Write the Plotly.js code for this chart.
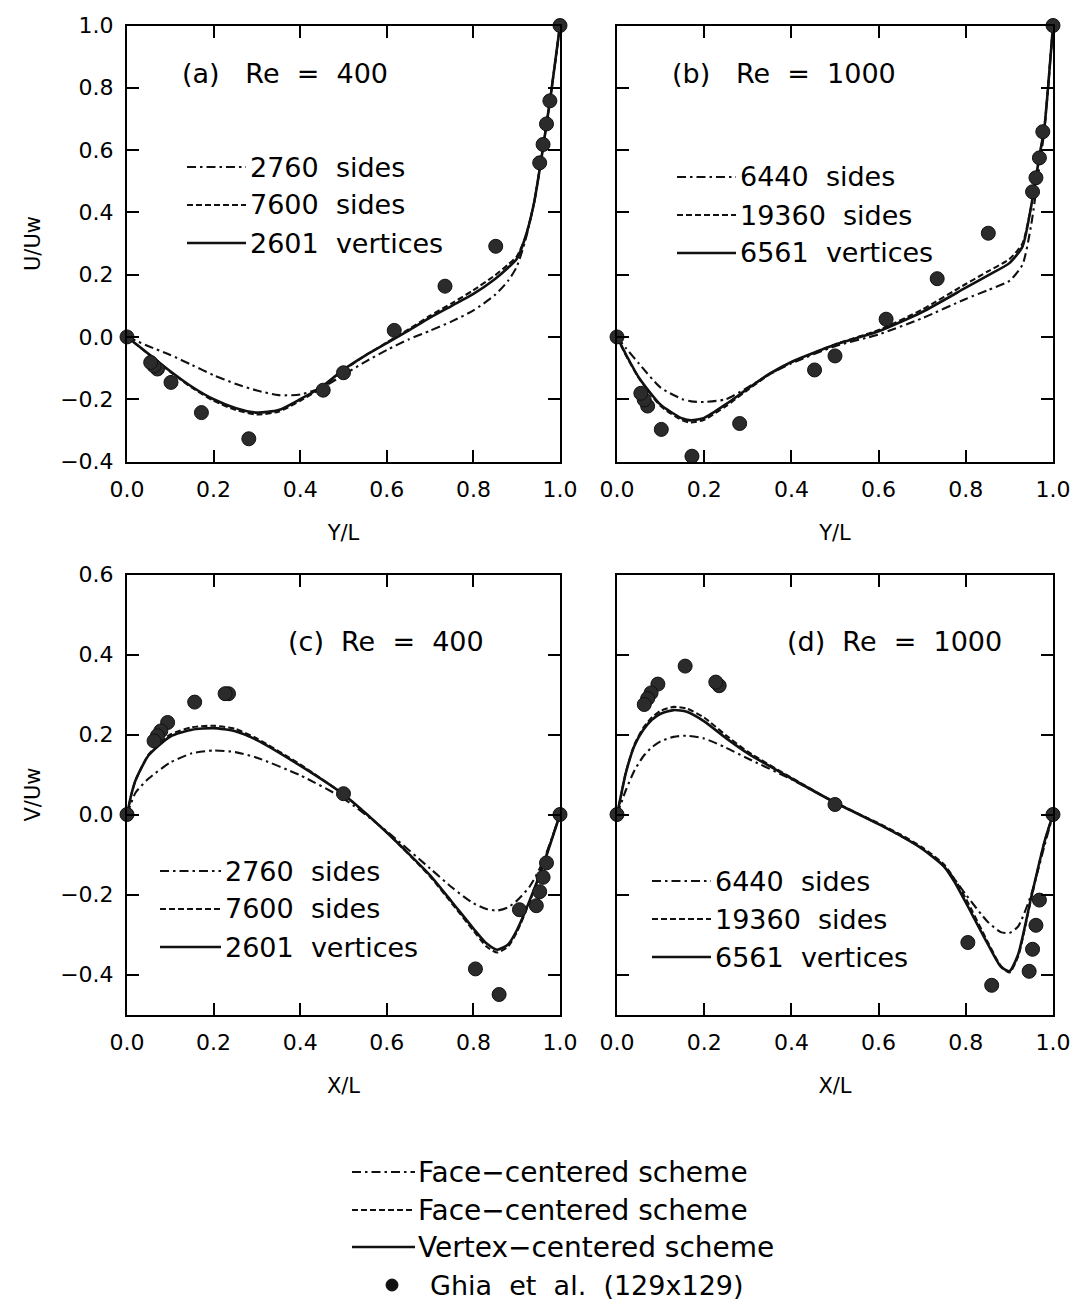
<!DOCTYPE html>
<html>
<head>
<meta charset="utf-8">
<script src="https://cdn.plot.ly/plotly-3.0.1.min.js"></script>
<style>html,body{margin:0;padding:0;background:#fff;}#chart{width:1074px;height:1307px;}</style>
</head>
<body>
<div id="chart"></div>
<script>
// ---------- Ghia et al. (129x129) reference data ----------
const ghiaY     = [1.0000, 0.9766, 0.9688, 0.9609, 0.9531, 0.8516, 0.7344, 0.6172, 0.5000, 0.4531, 0.2813, 0.1719, 0.1016, 0.0703, 0.0625, 0.0547, 0.0000];
const ghiaU400  = [1.0, 0.758, 0.684, 0.618, 0.559, 0.291, 0.163, 0.021, -0.115, -0.171, -0.327, -0.243, -0.146, -0.103, -0.093, -0.082, 0.0];
const ghiaU1000 = [1.0, 0.659, 0.575, 0.511, 0.466, 0.333, 0.187, 0.057, -0.061, -0.106, -0.278, -0.383, -0.297, -0.222, -0.202, -0.181, 0.0];
const ghiaX     = [1.0000, 0.9688, 0.9609, 0.9531, 0.9453, 0.9063, 0.8594, 0.8047, 0.5000, 0.2344, 0.2266, 0.1563, 0.0938, 0.0781, 0.0703, 0.0625, 0.0000];
const ghiaV400  = [0, -0.121, -0.157, -0.193, -0.228, -0.238, -0.450, -0.386, 0.052, 0.302, 0.302, 0.281, 0.230, 0.209, 0.197, 0.184, 0];
const ghiaV1000 = [0, -0.214, -0.277, -0.337, -0.392, -0.516, -0.427, -0.320, 0.025, 0.322, 0.331, 0.371, 0.326, 0.304, 0.290, 0.275, 0];

// ---------- (a) U/Uw vs Y/L, Re = 400 ----------
const xA        = [0, 0.02, 0.05, 0.1, 0.15, 0.2, 0.25, 0.3, 0.35, 0.4, 0.45, 0.5, 0.55, 0.6, 0.65, 0.7, 0.75, 0.8, 0.85, 0.88, 0.9, 0.92, 0.94, 0.96, 0.98, 1.0];
const a2760     = [0, -0.012, -0.03, -0.058, -0.09, -0.123, -0.15, -0.172, -0.187, -0.185, -0.163, -0.122, -0.08, -0.042, -0.008, 0.02, 0.05, 0.085, 0.135, 0.18, 0.225, 0.31, 0.43, 0.6, 0.79, 1.0];
const a7600     = [0, -0.022, -0.056, -0.112, -0.163, -0.205, -0.234, -0.249, -0.24, -0.205, -0.163, -0.107, -0.06, -0.018, 0.024, 0.068, 0.108, 0.15, 0.198, 0.232, 0.258, 0.32, 0.43, 0.6, 0.79, 1.0];
const a2601     = [0, -0.022, -0.055, -0.11, -0.16, -0.2, -0.228, -0.243, -0.235, -0.2, -0.16, -0.105, -0.06, -0.02, 0.02, 0.062, 0.1, 0.138, 0.186, 0.222, 0.25, 0.32, 0.43, 0.6, 0.79, 1.0];

// ---------- (b) U/Uw vs Y/L, Re = 1000 ----------
const xB        = [0, 0.02, 0.05, 0.1, 0.15, 0.17, 0.2, 0.25, 0.3, 0.35, 0.4, 0.5, 0.6, 0.7, 0.8, 0.85, 0.9, 0.93, 0.95, 0.97, 0.98, 1.0];
const b6440     = [0, -0.035, -0.085, -0.163, -0.2, -0.207, -0.209, -0.2, -0.162, -0.12, -0.085, -0.03, 0.008, 0.06, 0.122, 0.15, 0.18, 0.232, 0.36, 0.56, 0.66, 1.0];
const b19360    = [0, -0.058, -0.132, -0.222, -0.268, -0.275, -0.266, -0.222, -0.17, -0.12, -0.082, -0.024, 0.022, 0.088, 0.17, 0.21, 0.25, 0.30, 0.42, 0.59, 0.67, 1.0];
const b6561     = [0, -0.055, -0.13, -0.218, -0.262, -0.268, -0.26, -0.216, -0.166, -0.118, -0.08, -0.025, 0.018, 0.08, 0.158, 0.197, 0.237, 0.29, 0.42, 0.59, 0.67, 1.0];

// ---------- (c) V/Uw vs X/L, Re = 400 ----------
const xC        = [0, 0.01, 0.02, 0.05, 0.1, 0.15, 0.2, 0.25, 0.3, 0.4, 0.5, 0.6, 0.7, 0.75, 0.8, 0.83, 0.855, 0.88, 0.9, 0.93, 0.96, 1.0];
const c2760     = [0, 0.03, 0.055, 0.09, 0.13, 0.153, 0.16, 0.156, 0.142, 0.098, 0.04, -0.042, -0.135, -0.182, -0.222, -0.236, -0.24, -0.232, -0.216, -0.18, -0.12, 0];
const c7600     = [0, 0.05, 0.086, 0.15, 0.2, 0.218, 0.222, 0.214, 0.19, 0.125, 0.05, -0.045, -0.155, -0.222, -0.29, -0.33, -0.345, -0.33, -0.295, -0.218, -0.13, 0];
const c2601     = [0, 0.05, 0.086, 0.148, 0.195, 0.212, 0.216, 0.208, 0.186, 0.122, 0.05, -0.045, -0.152, -0.218, -0.285, -0.322, -0.338, -0.325, -0.29, -0.215, -0.13, 0];

// ---------- (d) V/Uw vs X/L, Re = 1000 ----------
const xD        = [0, 0.01, 0.02, 0.04, 0.06, 0.08, 0.1, 0.13, 0.16, 0.2, 0.25, 0.3, 0.4, 0.5, 0.6, 0.65, 0.7, 0.75, 0.775, 0.8, 0.85, 0.88, 0.9, 0.92, 0.95, 0.98, 1.0];
const d6440     = [0, 0.03, 0.06, 0.11, 0.145, 0.168, 0.183, 0.194, 0.197, 0.19, 0.167, 0.14, 0.088, 0.03, -0.024, -0.053, -0.085, -0.128, -0.163, -0.2, -0.268, -0.294, -0.296, -0.28, -0.2, -0.08, 0];
const d19360    = [0, 0.052, 0.104, 0.175, 0.216, 0.243, 0.259, 0.269, 0.265, 0.242, 0.198, 0.157, 0.092, 0.03, -0.022, -0.05, -0.082, -0.125, -0.163, -0.21, -0.318, -0.378, -0.395, -0.355, -0.21, -0.07, 0];
const d6561     = [0, 0.052, 0.103, 0.172, 0.211, 0.237, 0.252, 0.261, 0.257, 0.233, 0.191, 0.153, 0.09, 0.03, -0.024, -0.053, -0.086, -0.13, -0.17, -0.22, -0.323, -0.38, -0.392, -0.35, -0.207, -0.07, 0];

// ---------- text ----------
const panelLabels = ['(a)\u00a0\u00a0\u00a0Re\u00a0\u00a0=\u00a0\u00a0400', '(b)\u00a0\u00a0\u00a0Re\u00a0\u00a0=\u00a0\u00a01000',
                     '(c)\u00a0\u00a0Re\u00a0\u00a0=\u00a0\u00a0400', '(d)\u00a0\u00a0Re\u00a0\u00a0=\u00a0\u00a01000'];
const legA = ['2760\u00a0\u00a0sides', '7600\u00a0\u00a0sides', '2601\u00a0\u00a0vertices'];
const legB = ['6440\u00a0\u00a0sides', '19360\u00a0\u00a0sides', '6561\u00a0\u00a0vertices'];
const legBottom = ['Face\u2212centered\u00a0scheme', 'Face\u2212centered\u00a0scheme', 'Vertex\u2212centered\u00a0scheme', 'Ghia\u00a0\u00a0et\u00a0\u00a0al.\u00a0\u00a0(129x129)'];

// ---------- styling ----------
const W = 1074, H = 1307;
const FONT = 'DejaVu Sans, sans-serif';
const DASHDOT = '9px,4px,2.5px,4px';
const DASH = '6px,3px';
const styles = [
  {dash: DASHDOT, width: 2.1},
  {dash: DASH, width: 2.1},
  {dash: 'solid', width: 2.6}
];
const px = v => v / W;
const py = v => 1 - v / H;

const traces = [];
function addPanel(ax, xs, series, names, gx, gy) {
  const xa = 'x' + (ax === 1 ? '' : ax), ya = 'y' + (ax === 1 ? '' : ax);
  series.forEach((s, i) => {
    traces.push({
      type: 'scatter', mode: 'lines', x: xs, y: s, xaxis: xa, yaxis: ya,
      name: names[i], showlegend: false,
      line: {color: '#111', width: styles[i].width, dash: styles[i].dash, shape: 'spline', smoothing: 0.6}
    });
  });
  traces.push({
    type: 'scatter', mode: 'markers', x: gx, y: gy, xaxis: xa, yaxis: ya,
    name: 'Ghia et al. (129x129)', showlegend: false, cliponaxis: false,
    marker: {color: '#2b2b2b', size: 14, line: {color: '#111', width: 1}}
  });
}
addPanel(1, xA, [a2760, a7600, a2601], legA, ghiaY, ghiaU400);
addPanel(2, xB, [b6440, b19360, b6561], legB, ghiaY, ghiaU1000);
addPanel(3, xC, [c2760, c7600, c2601], legA, ghiaX, ghiaV400);
addPanel(4, xD, [d6440, d19360, d6561], legB, ghiaX, ghiaV1000);

const xL = [127, 560], xR = [617, 1053];
const yTop = [25.5, 461.5], yBot = [574.5, 1014.5];

function xAxis(dom, title) {
  return {
    domain: [px(dom[0]), px(dom[1])], range: [0, 1], tick0: 0, dtick: 0.2, tickformat: '.1f',
    showgrid: false, zeroline: false, showline: true, linecolor: '#000', linewidth: 2,
    mirror: 'ticks', ticks: 'inside', ticklen: 12, tickwidth: 2, tickcolor: '#000',
    ticklabelstandoff: 7,
    tickfont: {family: FONT, size: 22, color: '#000'},
    title: {text: title, font: {family: FONT, size: 21, color: '#000'}, standoff: 24}
  };
}
function yAxis(dom, range, showLabels, title, anchor) {
  const o = {
    domain: [py(dom[1]), py(dom[0])], range: range, tick0: 0, dtick: 0.2, tickformat: '.1f',
    showgrid: false, zeroline: false, showline: true, linecolor: '#000', linewidth: 2,
    mirror: 'ticks', ticks: 'inside', ticklen: 12, tickwidth: 2, tickcolor: '#000',
    showticklabels: showLabels, ticklabelstandoff: 7, anchor: anchor,
    tickfont: {family: FONT, size: 22, color: '#000'}
  };
  if (title) o.title = {text: title, font: {family: FONT, size: 21, color: '#000'}, standoff: 14};
  return o;
}

const layout = {
  width: W, height: H, margin: {l: 0, r: 0, t: 0, b: 0},
  paper_bgcolor: '#fff', plot_bgcolor: '#fff', showlegend: false,
  font: {family: FONT, color: '#000'},
  xaxis:  Object.assign(xAxis(xL, 'Y/L'), {anchor: 'y'}),
  xaxis2: Object.assign(xAxis(xR, 'Y/L'), {anchor: 'y2'}),
  xaxis3: Object.assign(xAxis(xL, 'X/L'), {anchor: 'y3'}),
  xaxis4: Object.assign(xAxis(xR, 'X/L'), {anchor: 'y4'}),
  yaxis:  yAxis(yTop, [-0.4, 1.0], true, 'U/Uw', 'x'),
  yaxis2: yAxis(yTop, [-0.4, 1.0], false, null, 'x2'),
  yaxis3: yAxis(yBot, [-0.5, 0.6], true, 'V/Uw', 'x3'),
  yaxis4: yAxis(yBot, [-0.5, 0.6], false, null, 'x4'),
  shapes: [], annotations: []
};

// panel labels
const labelPos = [[285, 73], [784, 73], [386, 642], [894, 642]];
labelPos.forEach((p, i) => layout.annotations.push({
  xref: 'paper', yref: 'paper', x: px(p[0]), y: py(p[1]), xanchor: 'center', yanchor: 'middle',
  text: panelLabels[i], showarrow: false, font: {family: FONT, size: 27, color: '#000'}
}));

// in-panel legends: [lineStart, lineEnd, textStart, rowYs]
const legends = [
  [187, 246, 248, [167, 205, 243], legA],
  [677, 736, 738, [177, 215, 253], legB],
  [160, 221, 223, [871, 909, 947], legA],
  [652, 711, 713, [881, 919, 957], legB]
];
function legendRow(x0, x1, xt, yy, st, txt, size) {
  layout.shapes.push({type: 'line', xref: 'paper', yref: 'paper', x0: px(x0), x1: px(x1), y0: py(yy), y1: py(yy),
    line: {color: '#111', width: st.width, dash: st.dash}});
  layout.annotations.push({xref: 'paper', yref: 'paper', x: px(xt), y: py(yy), xanchor: 'left', yanchor: 'middle',
    text: txt, showarrow: false, font: {family: FONT, size: size, color: '#000'}});
}
legends.forEach(L => L[3].forEach((yy, i) => legendRow(L[0], L[1], L[2], yy, styles[i], L[4][i], 27)));

// bottom legend
[1172, 1210, 1247].forEach((yy, i) => legendRow(352, 415, 416, yy, styles[i], legBottom[i], 28));
layout.shapes.push({type: 'circle', xref: 'paper', yref: 'paper', x0: px(386), x1: px(398), y0: py(1291), y1: py(1279),
  fillcolor: '#111', line: {color: '#111', width: 1}});
layout.annotations.push({xref: 'paper', yref: 'paper', x: px(428), y: py(1285), xanchor: 'left', yanchor: 'middle',
  text: legBottom[3], showarrow: false, font: {family: FONT, size: 27, color: '#000'}});

Plotly.newPlot('chart', traces, layout, {staticPlot: true});
</script>
</body>
</html>
